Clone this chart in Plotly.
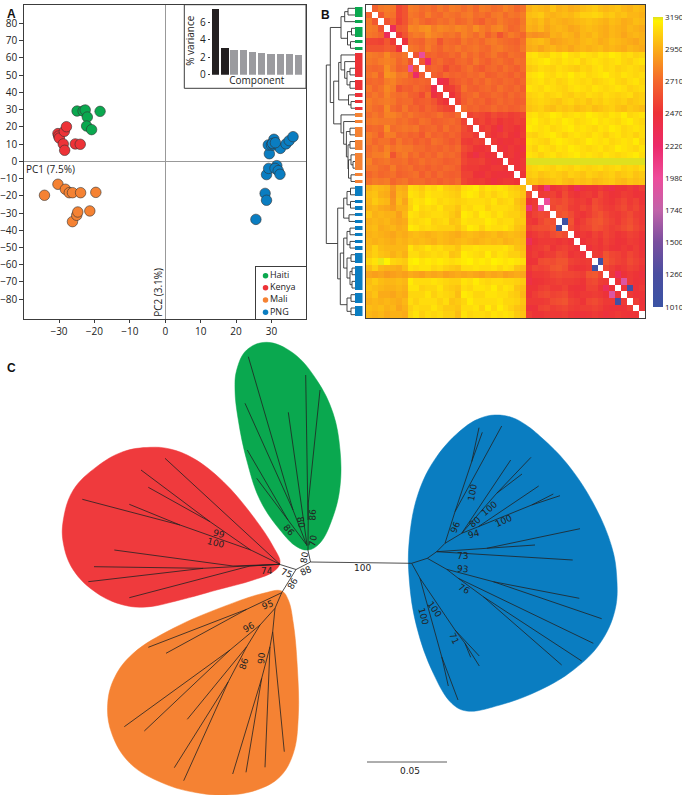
import plotly.graph_objects as go

W, H = 682, 795

# --- panel A: PCA
pc_groups = ["Haiti", "Kenya", "Mali", "PNG"]
pc_colors = ["#0aa84f", "#ed3237", "#f58233", "#0a7dc1"]
haiti_pc1 = [-24.9, -23.2, -22.6, -22.0, -22.2, -20.8, -18.4]
haiti_pc2 = [29.2, 29.2, 29.8, 25.7, 20.5, 18.4, 29.0]
kenya_pc1 = [-30.3, -30.1, -29.9, -28.5, -27.9, -28.8, -28.4, -25.4, -24.0]
kenya_pc2 = [16.1, 14.7, 13.5, 17.4, 20.1, 10.1, 6.4, 10.1, 9.9]
mali_pc1 = [-34.1, -30.3, -28.2, -27.1, -26.2, -23.9, -19.6, -21.3, -26.2, -25.0, -24.7]
mali_pc2 = [-19.7, -13.3, -16.2, -18.2, -18.2, -18.2, -18.0, -28.8, -35.0, -31.3, -29.4]
png_pc1 = [25.6, 28.2, 28.6, 28.6, 29.2, 31.5, 31.0, 31.9, 32.4, 29.4, 29.1, 30.0, 30.7, 30.6,
           32.5, 34.1, 35.0, 36.1, 30.3, 31.1]
png_pc2 = [-33.7, -18.6, -22.6, -7.7, -4.1, -2.5, -4.1, -5.4, -7.5, 4.4, 9.5, 9.5, 12.8, 9.5,
           7.5, 10.1, 12.0, 14.3, 10.4, 10.8]
pc_x_ticks = [-30, -20, -10, 0, 10, 20, 30]
pc_y_ticks = [80, 70, 60, 50, 40, 30, 20, 10, 0, -10, -20, -30, -40, -50, -60, -70, -80]

scree_component = [1, 2, 3, 4, 5, 6, 7, 8, 9, 10]
scree_variance = [7.5, 3.1, 2.9, 2.8, 2.6, 2.55, 2.35, 2.35, 2.35, 2.3]

# --- panel B: distance matrix, upper triangle in tens, rows split haiti|kenya|mali|png
dist_upper = [
    [268, 276, 278, 276, 256, 262, 278, 276, 272, 274, 270, 276, 272, 278, 276, 272, 276, 270, 278, 276, 272, 274, 280, 276, 270, 274, 296, 300, 298, 296, 302, 296, 298, 294, 296, 300, 302, 304, 300, 298, 300, 302, 298, 296, 300, 298],
    [264, 276, 274, 256, 262, 276, 274, 270, 278, 272, 270, 276, 274, 272, 276, 278, 272, 274, 270, 276, 278, 272, 276, 274, 278, 300, 302, 304, 298, 296, 298, 300, 298, 302, 306, 306, 308, 306, 302, 304, 300, 302, 298, 298, 296],
    [262, 270, 254, 262, 274, 278, 272, 268, 270, 274, 272, 276, 270, 272, 276, 270, 266, 274, 272, 278, 274, 272, 270, 276, 298, 296, 300, 294, 298, 296, 294, 296, 298, 300, 302, 300, 298, 296, 300, 298, 294, 296, 300, 298],
    [230, 264, 266, 282, 280, 284, 286, 278, 282, 280, 278, 282, 280, 276, 284, 278, 274, 280, 282, 276, 270, 272, 278, 296, 294, 298, 292, 296, 298, 296, 292, 294, 298, 300, 298, 296, 294, 298, 296, 294, 298, 296, 294],
    [250, 262, 274, 278, 276, 284, 280, 278, 274, 276, 272, 280, 276, 272, 278, 268, 274, 262, 272, 278, 274, 270, 286, 284, 286, 288, 296, 294, 298, 296, 292, 298, 296, 300, 296, 294, 298, 296, 292, 296, 298, 296],
    [244, 272, 270, 268, 276, 274, 262, 272, 270, 268, 276, 272, 274, 270, 276, 278, 274, 272, 270, 268, 274, 296, 298, 300, 296, 290, 292, 294, 296, 294, 298, 300, 298, 294, 296, 300, 298, 296, 294, 292, 296],
    [276, 274, 270, 278, 272, 268, 274, 272, 276, 272, 274, 276, 272, 270, 276, 278, 274, 272, 270, 276, 294, 296, 292, 296, 298, 294, 296, 292, 296, 298, 296, 298, 300, 296, 298, 296, 294, 298, 296, 294],
    [262, 196, 268, 270, 266, 268, 272, 268, 276, 270, 274, 268, 272, 276, 270, 268, 274, 272, 270, 310, 312, 308, 306, 312, 310, 314, 310, 308, 312, 310, 308, 312, 310, 314, 312, 308, 310, 306, 308],
    [264, 224, 268, 272, 266, 264, 270, 272, 268, 276, 270, 266, 272, 274, 270, 268, 274, 272, 308, 310, 312, 314, 310, 308, 312, 310, 312, 306, 310, 312, 310, 308, 310, 312, 308, 306, 310, 312],
    [266, 270, 268, 258, 266, 264, 270, 274, 268, 264, 270, 272, 268, 274, 270, 266, 272, 304, 306, 310, 308, 306, 310, 308, 306, 304, 308, 306, 310, 312, 308, 310, 306, 308, 310, 308, 306],
    [268, 264, 272, 268, 270, 268, 272, 270, 274, 266, 268, 272, 270, 266, 272, 268, 310, 312, 314, 310, 308, 312, 310, 314, 310, 312, 308, 310, 312, 314, 310, 308, 312, 310, 308, 310],
    [236, 242, 262, 266, 270, 266, 272, 268, 274, 270, 268, 272, 270, 266, 270, 308, 310, 312, 308, 310, 306, 308, 312, 310, 308, 310, 306, 308, 310, 312, 308, 306, 310, 312, 308],
    [250, 252, 260, 274, 268, 266, 270, 272, 268, 274, 270, 268, 272, 266, 312, 310, 308, 312, 310, 308, 306, 310, 312, 310, 308, 312, 310, 308, 310, 312, 310, 306, 308, 310],
    [246, 256, 268, 270, 274, 266, 268, 272, 270, 266, 272, 268, 270, 306, 308, 310, 306, 308, 310, 306, 304, 308, 306, 310, 308, 306, 310, 308, 306, 308, 310, 304, 306],
    [254, 266, 272, 268, 270, 264, 268, 272, 268, 270, 266, 268, 304, 306, 308, 306, 304, 302, 306, 308, 304, 306, 302, 306, 304, 308, 306, 304, 306, 302, 304, 306],
    [272, 268, 270, 266, 268, 272, 268, 270, 266, 268, 272, 302, 304, 306, 302, 300, 304, 302, 304, 300, 302, 304, 300, 302, 304, 306, 302, 300, 304, 302, 300],
    [254, 258, 256, 252, 258, 254, 256, 252, 254, 256, 310, 312, 308, 310, 314, 312, 308, 310, 312, 310, 314, 312, 310, 308, 312, 310, 314, 308, 310, 312],
    [252, 256, 250, 254, 248, 252, 250, 254, 252, 312, 314, 310, 308, 312, 310, 314, 312, 308, 310, 312, 314, 310, 312, 310, 308, 312, 314, 310, 308],
    [250, 254, 248, 240, 252, 250, 246, 250, 314, 312, 310, 312, 308, 310, 312, 314, 310, 312, 310, 308, 312, 310, 314, 312, 308, 310, 312, 310],
    [252, 246, 250, 254, 248, 244, 252, 308, 306, 310, 312, 314, 310, 306, 310, 312, 310, 308, 312, 310, 306, 310, 312, 308, 310, 306, 310],
    [250, 244, 248, 246, 250, 248, 312, 310, 308, 306, 312, 314, 312, 310, 308, 310, 314, 312, 310, 312, 308, 310, 312, 310, 314, 308],
    [248, 244, 250, 246, 242, 310, 306, 312, 310, 308, 312, 310, 314, 312, 310, 308, 310, 312, 308, 310, 314, 312, 310, 308, 312],
    [246, 250, 244, 248, 312, 310, 306, 310, 312, 308, 310, 312, 314, 310, 312, 310, 308, 312, 310, 308, 310, 312, 314, 310],
    [248, 244, 250, 322, 322, 320, 322, 320, 322, 322, 320, 322, 322, 320, 322, 322, 320, 322, 322, 320, 322, 322, 320],
    [246, 250, 306, 308, 310, 308, 306, 310, 308, 306, 310, 308, 306, 308, 310, 306, 308, 310, 306, 308, 306, 310],
    [248, 304, 306, 302, 304, 306, 304, 302, 306, 304, 302, 306, 304, 302, 304, 306, 302, 304, 306, 302, 304],
    [300, 302, 298, 300, 302, 304, 300, 298, 302, 300, 302, 298, 300, 302, 304, 300, 298, 302, 300, 302],
    [258, 246, 216, 248, 250, 254, 246, 232, 244, 248, 246, 250, 244, 240, 248, 246, 250, 244, 252],
    [250, 252, 254, 248, 258, 250, 246, 250, 252, 248, 256, 250, 246, 248, 252, 250, 246, 248],
    [198, 258, 256, 260, 254, 250, 252, 248, 258, 254, 250, 248, 252, 256, 250, 254, 248],
    [256, 262, 260, 252, 250, 256, 252, 260, 256, 252, 250, 254, 258, 252, 256, 250],
    [260, 264, 258, 250, 248, 252, 258, 262, 256, 252, 250, 254, 258, 252, 250],
    [108, 262, 248, 252, 258, 262, 264, 258, 254, 250, 256, 260, 254, 250],
    [258, 250, 254, 256, 262, 260, 256, 252, 254, 258, 262, 256, 252],
    [246, 250, 248, 254, 250, 256, 252, 248, 250, 254, 252, 248],
    [246, 250, 252, 248, 254, 250, 246, 248, 252, 250, 246],
    [244, 250, 248, 252, 248, 246, 250, 248, 252, 246],
    [252, 250, 262, 256, 254, 250, 256, 252, 248],
    [110, 264, 258, 254, 252, 258, 254, 250],
    [256, 252, 248, 250, 254, 252, 248],
    [250, 230, 246, 250, 248, 244],
    [246, 188, 250, 246, 248],
    [248, 115, 246, 250],
    [250, 246, 248],
    [252, 246],
    [248],
]
# below the PNG boundary the picture is not quite the mirror of the top right
col23_png = [310, 312, 308, 310, 308, 310, 312, 308, 310, 312, 310, 308, 312, 310, 308, 312, 310, 308, 310, 312]
row34_left = [296, 298, 296, 294, 292, 296, 294, 298, 300, 298, 296, 298, 300, 298, 296, 294, 298, 300, 298, 296, 298, 300, 296, 298, 300, 298, 296]
row35_left = [298, 296, 298, 296, 294, 298, 296, 300, 298, 300, 298, 296, 300, 298, 296, 298, 300, 298, 296, 298, 300, 298, 300, 296, 298, 300, 298]
row38_left = [308, 312, 318, 316, 308, 306, 304, 314, 316, 312, 314, 312, 314, 312, 310, 312, 314, 316, 312, 314, 312, 316, 314, 312, 314, 312, 310]
row40_left = [292, 290, 292, 288, 290, 292, 290, 294, 292, 290, 294, 292, 294, 290, 292, 294, 292, 294, 292, 290, 294, 292, 294, 290, 292, 294, 292]
dist_ticks = [3190, 2950, 2710, 2470, 2220, 1980, 1740, 1500, 1260, 1010]

# side strip: first row and row count of each block, per population
strip_first = [0, 2, 3, 5, 6, 7, 11, 13, 14, 15, 16, 17, 18, 20, 22, 25, 26,
               27, 29, 30, 31, 32, 33, 34, 35, 36, 37, 39, 43, 45]
strip_rows = [2, 1, 2, 1, 1, 4, 2, 1, 1, 1, 1, 1, 2, 2, 3, 1, 1,
              2, 1, 1, 1, 1, 1, 1, 1, 1, 2, 4, 2, 2]
strip_group = [0] * 5 + [1] * 5 + [2] * 7 + [3] * 13

# dendrogram as nested (height, child, child), leaves are row numbers
haiti_tree = (14, (10.3, (7, 0, 1), 2), (7.5, (3.5, 3, 4), (4.5, 5, 6)))
kenya_tree = (16.3, (14, 7, (10.3, 8, (8, (5, 9, 10), (5, 11, 12)))), (6.5, 13, (4, 14, 15)))
mali_tree = (14, 16, (11.3, 17, (8.6, (5, 18, 19), (7, (5, 20, 21), (6.5, (4, 22, (2, 23, 24)), (4, 25, 26))))))
png_tree = (17.3,
            (11.3, (8, (4.5, 27, 28), (4.5, 29, 30)), (6, 31, 32)),
            (14.7,
             (11.3, (8, (5, 33, 34), (5, 35, 36)), (8, (4, 37, 38), (5, (3, 39, 40), (3, 41, 42)))),
             (8, (4, 43, 44), (4, 45, 46))))
dendro = (28.7, (24.7, haiti_tree, (21.3, kenya_tree, mali_tree)), png_tree)

# --- panel C: unrooted tree
green_blob_x = [266.7, 246.7, 236.7, 235, 238.3, 246.7, 260, 280, 296.7, 308.3, 320, 333, 340, 340, 333, 316.7, 293]
green_blob_y = [342.3, 350, 370, 390, 420, 460, 500, 530, 546.7, 550, 543, 516.7, 486.7, 450, 413, 380, 353]
red_blob_x = [150, 123, 96.7, 73.3, 63.3, 63.3, 73.3, 96.7, 123.3, 146.7, 180, 216.7, 253.3, 273.3, 280, 273.3, 253.3, 223.3, 193.3, 170]
red_blob_y = [447.3, 451.7, 466.7, 490, 520, 543, 570, 593, 605, 607, 600, 590, 580, 571.7, 563, 546.7, 516.7, 481.7, 458.3, 449]
orange_blob_x = [281.7, 263.3, 223.3, 173.3, 133.3, 115, 107.7, 111.7, 130, 163.3, 196.7, 226.7, 256.7, 280, 293.3, 298.3, 297.3, 293.3, 288.3]
orange_blob_y = [591, 593.3, 606.7, 628.3, 653.3, 676.7, 703.3, 733.3, 763.3, 783.3, 792.7, 795, 790, 776.7, 753.3, 716.7, 666.7, 623.3, 600]
blue_blob_x = [495, 512, 526, 542, 566.7, 593.3, 611.7, 616.7, 615, 600, 573.3, 540, 500, 466.7, 451.7, 433.3, 416.7, 409.3, 409.3, 418.3, 436.7, 463.3, 480]
blue_blob_y = [415, 417.5, 425, 438, 463.3, 503.3, 546.7, 576.7, 610, 643.3, 670, 690, 705, 711, 703.3, 673.3, 626.7, 580, 540, 493.3, 456.7, 428.3, 418.3]

center_edges = [(296, 569.5, 310.5, 562), (310.5, 562, 307.8, 549.5), (296, 569.5, 280, 564.5),
                (296, 569.5, 281.7, 592.7), (310.5, 562, 411.7, 563.3)]
green_edges = [(308, 549.5, 308.3, 503), (308.3, 503, 320, 390), (308, 520, 305.7, 375),
               (307, 545, 288.3, 412.3), (307, 546, 293, 510), (293, 510, 248.3, 356.7),
               (293, 510, 245, 403.3), (306, 544, 288, 520), (288, 520, 247.3, 450), (288, 520, 256.7, 478.3)]
red_edges = [(280, 564.3, 165, 458.3), (280, 564.3, 250.7, 550), (250.7, 550, 210, 521.7),
             (210, 521.7, 141, 470), (210, 521.7, 148.3, 487.3), (250.7, 550, 180, 525),
             (180, 525, 129.3, 504.3), (180, 525, 82.3, 499.3), (280, 564.3, 233, 566),
             (233, 566, 114.3, 550), (280, 564.3, 203.3, 568.3), (203.3, 568.3, 94, 566.7),
             (203.3, 568.3, 88.3, 581.7), (280, 564.3, 250, 566), (250, 566, 129.3, 597.7)]
orange_edges = [(281.7, 592.7, 246.7, 609.3), (246.7, 609.3, 148.3, 647.3), (246.7, 609.3, 166, 653.3),
                (281.7, 592.7, 275, 608.3), (275, 608.3, 260, 625), (260, 625, 230, 650),
                (230, 650, 124.3, 726.7), (230, 650, 144.3, 731), (260, 625, 246.7, 646.7),
                (246.7, 646.7, 187.3, 719.3), (246.7, 646.7, 228.3, 681.7), (228.3, 681.7, 174.3, 767.7),
                (228.3, 681.7, 183.7, 780.7), (275, 608.3, 272.7, 631.7), (272.7, 631.7, 284.3, 751.7),
                (272.7, 631.7, 270, 646.7), (270, 646.7, 265, 767.3), (270, 646.7, 261.7, 678.3),
                (261.7, 678.3, 232.7, 774), (261.7, 678.3, 246, 772.3)]
blue_edges = [(411.7, 563.3, 427.3, 558.3), (427.3, 558.3, 436.7, 551.7), (436.7, 551.7, 445, 543.3),
              (411.7, 563.3, 420, 578.3), (420, 578.3, 441.7, 656.7), (441.7, 656.7, 448.3, 686),
              (441.7, 656.7, 458, 700), (420, 578.3, 455, 630), (455, 630, 479.3, 656),
              (455, 630, 465, 643.3), (465, 643.3, 479.3, 666), (465, 643.3, 470.7, 657.3),
              (445, 543.3, 455, 511.7), (455, 511.7, 471.7, 461.7), (471.7, 461.7, 479, 427.7),
              (471.7, 461.7, 482.3, 432.3), (455, 511.7, 501.7, 426), (445, 543.3, 461.7, 533.3),
              (461.7, 533.3, 510.7, 460), (461.7, 533.3, 496.7, 493.3), (496.7, 493.3, 531, 457.3),
              (496.7, 493.3, 522, 474), (461.7, 533.3, 478.3, 526.7), (478.3, 526.7, 538.7, 486),
              (478.3, 526.7, 531.7, 505), (531.7, 505, 553.3, 494), (531.7, 505, 560, 495.7),
              (436.7, 551.7, 486.7, 548.3), (486.7, 548.3, 580, 528.7), (486.7, 548.3, 535, 545),
              (436.7, 551.7, 572.7, 560), (427.3, 558.3, 446.7, 569.3), (446.7, 569.3, 493.3, 581.7),
              (493.3, 581.7, 579.3, 598.3), (493.3, 581.7, 601.7, 618.7), (446.7, 569.3, 458.3, 578.3),
              (458.3, 578.3, 593.3, 643.3), (458.3, 578.3, 483.3, 596.7), (483.3, 596.7, 581.7, 661),
              (483.3, 596.7, 561.7, 665)]
scale_bar_x = [367, 447]
scale_bar_y = [762, 762]

support_text = ["86", "80", "86", "70", "80", "88", "75", "86", "74", "99", "100", "95", "96", "86", "90", "100",
                "100", "96", "80", "100", "100", "94", "73", "93", "76", "100", "100", "71"]
support_x = [312.7, 300.7, 288.7, 312.7, 305, 305.7, 286, 293.3, 266.7, 219.3, 215.7, 267.7, 249.3, 244.3, 261.7, 362.3,
             472.3, 455.3, 475, 489, 503.3, 474, 462.3, 462.3, 464, 434.3, 423.3, 454]
support_y = [515, 522.3, 530, 540.7, 557.3, 570.7, 572.7, 583.3, 570.7, 534, 543.3, 605, 627.3, 663.3, 658.3, 568,
             492.7, 526.7, 521.7, 509, 521, 534, 556, 568.7, 589.3, 609, 616, 637.7]
support_angle = [-88, 80, 50, -80, -80, -25, 20, -60, 0, 15, 15, -20, -30, -72, -85, 0,
                 -80, -68, -40, -40, -25, -15, 0, 5, 30, 55, 75, 65]

UI_FONT = "Open Sans, Noto Sans, sans-serif"
TREE_FONT = "DejaVu Sans, sans-serif"
LINE = "#3c3c3c"


def dx(a, b):
    return [a / W, b / W]


def dy(top, bottom):
    return [1 - bottom / H, 1 - top / H]


# fill in the symmetric matrix, white diagonal stays empty
n = len(dist_upper) + 1
dist = [[None] * n for _ in range(n)]
for i, row in enumerate(dist_upper):
    assert len(row) == n - 1 - i, (i, len(row))
    for k, v in enumerate(row):
        dist[i][i + 1 + k] = v * 10
        dist[i + 1 + k][i] = v * 10
for k, v in enumerate(col23_png):
    dist[27 + k][23] = v * 10
for r, left in [(34, row34_left), (35, row35_left), (38, row38_left), (40, row40_left)]:
    assert len(left) == 27
    dist[r][:27] = [v * 10 for v in left]

dendro_x, dendro_y = [], []


def walk(node):
    if isinstance(node, int):
        return node, 0
    h, a, b = node
    ya, ha = walk(a)
    yb, hb = walk(b)
    dendro_x.extend([ha, h, h, hb, None])
    dendro_y.extend([ya, ya, yb, yb, None])
    return (ya + yb) / 2, h


walk(dendro)


def edge_xy(edges):
    xs, ys = [], []
    for x0, y0, x1, y1 in edges:
        xs += [x0, x1, None]
        ys += [y0, y1, None]
    return xs, ys


fig = go.Figure()

# panel A
pc_data = [(haiti_pc1, haiti_pc2), (kenya_pc1, kenya_pc2), (mali_pc1, mali_pc2), (png_pc1, png_pc2)]
for name, color, (px_, py_) in zip(pc_groups, pc_colors, pc_data):
    fig.add_trace(go.Scatter(x=px_, y=py_, mode="markers", name=name, xaxis="x", yaxis="y",
                             marker=dict(size=10.5, color=color, line=dict(width=0.6, color="#333333"))))

# inset scree plot
bar_colors = ["#231f20"] * 2 + ["#9b9b9f"] * 8
fig.add_trace(go.Bar(x=scree_component, y=scree_variance, marker=dict(color=bar_colors, line=dict(width=0)),
                     width=0.8, xaxis="x2", yaxis="y2"))

# legend box, own little axes
fig.add_trace(go.Scatter(x=[0] * 4, y=pc_groups, mode="markers+text", text=pc_groups, textposition="middle right",
                         marker=dict(size=5.5, color=pc_colors), textfont=dict(size=9, family=UI_FONT, color="#222"),
                         xaxis="x3", yaxis="y3"))

# panel B
colorscale = [[0, "#3a53a4"], [250 / 2180, "#4b4ea0"], [490 / 2180, "#7a4f9f"], [730 / 2180, "#c263a9"],
              [970 / 2180, "#ee4c9b"], [1210 / 2180, "#ec2a6a"], [1460 / 2180, "#ed3237"], [1700 / 2180, "#f4682c"],
              [1940 / 2180, "#fbae17"], [2090 / 2180, "#ffdc0c"], [2150 / 2180, "#fff200"], [1, "#dfe01f"]]
fig.add_trace(go.Heatmap(z=dist, zmin=1010, zmax=3190, colorscale=colorscale, xaxis="x4", yaxis="y4",
                         colorbar=dict(x=653 / W, xanchor="left", xpad=0, ypad=0, y=1 - 17 / H, yanchor="top",
                                       len=290, lenmode="pixels", thickness=10, thicknessmode="pixels",
                                       outlinewidth=0, tickvals=dist_ticks, ticks="", ticklen=0,
                                       tickfont=dict(size=8, family=UI_FONT, color="#222"))))
fig.add_trace(go.Scatter(x=dendro_x, y=dendro_y, mode="lines", line=dict(color="#333333", width=0.9),
                         xaxis="x5", yaxis="y5"))
strip_colors = [pc_colors[g] for g in strip_group]
fig.add_trace(go.Bar(y=[f + (r - 1) / 2 for f, r in zip(strip_first, strip_rows)], x=[-7.5] * len(strip_first),
                     base=0, orientation="h", width=[r - 0.5 for r in strip_rows],
                     marker=dict(color=strip_colors, line=dict(width=0)), xaxis="x5", yaxis="y5"))

# panel C
blobs = [(green_blob_x, green_blob_y, pc_colors[0]), (red_blob_x, red_blob_y, "#ef3a3d"),
         (orange_blob_x, orange_blob_y, pc_colors[2]), (blue_blob_x, blue_blob_y, pc_colors[3])]
for bx, by, color in blobs:
    fig.add_trace(go.Scatter(x=bx + bx[:1], y=by + by[:1], mode="lines", fill="toself", fillcolor=color,
                             line=dict(color=color, width=0.5, shape="spline", smoothing=1.1),
                             xaxis="x6", yaxis="y6"))
for edges in [center_edges, green_edges, red_edges, orange_edges, blue_edges]:
    ex, ey = edge_xy(edges)
    fig.add_trace(go.Scatter(x=ex, y=ey, mode="lines", line=dict(color="#222222", width=0.8),
                             xaxis="x6", yaxis="y6"))
fig.add_trace(go.Scatter(x=scale_bar_x, y=scale_bar_y, mode="lines", line=dict(color="#333333", width=0.8),
                         xaxis="x6", yaxis="y6"))

annotations = []
for t, x, y, a in zip(support_text, support_x, support_y, support_angle):
    annotations.append(dict(text=t, x=x, y=y, xref="x6", yref="y6", textangle=a, showarrow=False,
                            font=dict(size=9, family=TREE_FONT, color="#222")))
annotations.append(dict(text="0.05", x=410, y=771, xref="x6", yref="y6", showarrow=False,
                        font=dict(size=9, family=TREE_FONT, color="#222")))
annotations.append(dict(text="PC1 (7.5%)", x=-32.4, y=-4.6, xref="x", yref="y", showarrow=False,
                        font=dict(size=10, family=UI_FONT, color="#222")))
annotations.append(dict(text="PC2 (3.1%)", x=-1.9, y=-76, xref="x", yref="y", showarrow=False, textangle=-90,
                        font=dict(size=10, family=UI_FONT, color="#222")))
for letter, lx, ly in [("A", 5, 5), ("B", 325, 6), ("C", 5, 368)]:
    annotations.append(dict(text=f"<b>{letter}</b>", x=lx / W, y=1 - ly / H, xref="paper", yref="paper",
                            showarrow=False, font=dict(size=12, family="Liberation Sans, sans-serif", color="#111")))

small = dict(size=10, family=UI_FONT, color="#222")
fig.update_layout(
    width=W, height=H, margin=dict(l=0, r=0, t=0, b=0, autoexpand=False), showlegend=False, autosize=False,
    paper_bgcolor="white", plot_bgcolor="white", bargap=0,
    annotations=annotations,
    shapes=[dict(type="rect", xref="paper", yref="paper", x0=184.3 / W, x1=306 / W, y0=1 - 88.3 / H, y1=1 - 4.7 / H,
                 line=dict(color=LINE, width=1), fillcolor="white", layer="below")],
    xaxis=dict(domain=dx(24.3, 306), range=[-39.8, 39.75], tickvals=pc_x_ticks, showgrid=False, zeroline=True,
               zerolinecolor="#999999", zerolinewidth=1, showline=True, mirror=True, linecolor=LINE, linewidth=1,
               ticks="outside", ticklen=3, tickcolor=LINE, tickfont=small),
    yaxis=dict(domain=dy(4.7, 319), range=[-91.5, 90.9], tickvals=pc_y_ticks, showgrid=False, zeroline=True,
               zerolinecolor="#999999", zerolinewidth=1, showline=True, mirror=True, linecolor=LINE, linewidth=1,
               ticks="outside", ticklen=4, tickcolor=LINE, tickfont=small),
    xaxis2=dict(domain=dx(210.7, 303), range=[0.5, 10.5], anchor="y2", showgrid=False, zeroline=False,
                showticklabels=False, ticks="", title=dict(text="Component", font=small, standoff=2)),
    yaxis2=dict(domain=dy(6.7, 74.7), range=[0, 7.76], anchor="x2", tickvals=[0, 2, 4, 6], showgrid=False,
                zeroline=False, ticks="outside", ticklen=2, tickcolor=LINE, tickfont=small,
                title=dict(text="% variance", font=small, standoff=3)),
    xaxis3=dict(domain=dx(256, 306), range=[-0.8, 3.4], anchor="y3", showgrid=False, zeroline=False,
                showticklabels=False, ticks="", showline=True, mirror=True, linecolor=LINE, linewidth=1),
    yaxis3=dict(domain=dy(267, 319), range=[3.55, -0.71], anchor="x3", showgrid=False, zeroline=False,
                showticklabels=False, ticks="", showline=True, mirror=True, linecolor=LINE, linewidth=1,
                type="category"),
    xaxis4=dict(domain=dx(366, 645), range=[-0.5, 46.5], anchor="y4", showgrid=False, zeroline=False,
                showticklabels=False, ticks="", showline=True, mirror=True, linecolor=LINE, linewidth=1),
    yaxis4=dict(domain=dy(5, 318), range=[46.5, -0.5], anchor="x4", showgrid=False, zeroline=False,
                showticklabels=False, ticks="", showline=True, mirror=True, linecolor=LINE, linewidth=1),
    xaxis5=dict(domain=dx(323, 362.5), range=[32, -7.5], anchor="y5", visible=False),
    yaxis5=dict(domain=dy(5, 318), range=[46.5, -0.5], anchor="x5", visible=False),
    xaxis6=dict(domain=[0, 1], range=[0, W], anchor="y6", visible=False),
    yaxis6=dict(domain=dy(335, 795), range=[795, 335], anchor="x6", visible=False),
)

page_fix = ("document.body.style.margin='0';document.documentElement.style.overflow='hidden';"
            "document.body.style.overflow='hidden';"
            "document.querySelector('.plotly-graph-div').style.display='block';")
fig.write_html("out.html", config={"displayModeBar": False}, post_script=page_fix)
